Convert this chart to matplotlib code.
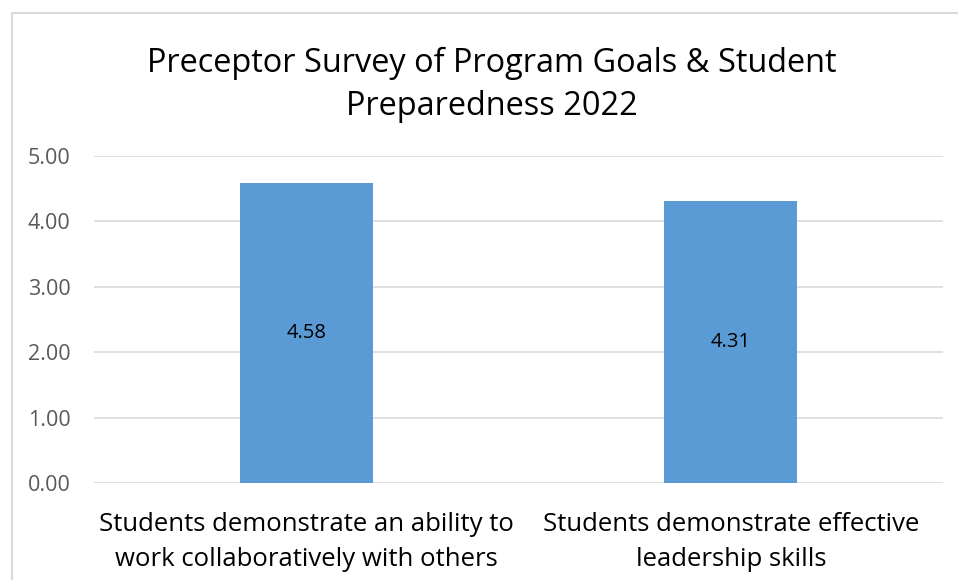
import matplotlib
matplotlib.use("Agg")
import matplotlib.pyplot as plt
from matplotlib.patches import Rectangle

categories = ["Students demonstrate an ability to\nwork collaboratively with others",
              "Students demonstrate effective\nleadership skills"]
values = [4.58, 4.31]
value_labels = ["4.58", "4.31"]
yticks = [0, 1, 2, 3, 4, 5]
ytick_labels = ["0.00", "1.00", "2.00", "3.00", "4.00", "5.00"]
title = "Preceptor Survey of Program Goals & Student\nPreparedness 2022"

plt.rcParams['font.family'] = ['Open Sans', 'DejaVu Sans']

W, H = 958, 580
fig = plt.figure(figsize=(W/100, H/100), dpi=100)
fig.patch.set_facecolor('white')

# chart border
fig.add_artist(Rectangle((12/W, -0.05), 1.2, (H-13)/H + 0.05, transform=fig.transFigure,
                         fill=False, edgecolor='#d9d9d9', linewidth=1.5))

left, right, top, bottom = 94, 943, 156, 483
ax = fig.add_axes([left/W, 1-bottom/H, (right-left)/W, (bottom-top)/H])
x = list(range(len(categories)))
bars = ax.bar(x, values, width=0.313, color='#5b9bd5', zorder=3)
ax.set_xlim(-0.5, len(categories)-0.5)
ax.set_ylim(0, 5)
ax.set_yticks(yticks)
ax.set_yticklabels(ytick_labels, fontsize=15.5, color='#595959')
ax.set_xticks(x)
ax.set_xticklabels(categories, fontsize=18.5, color='black', linespacing=1.5)
ax.tick_params(axis='both', length=0)
ax.tick_params(axis='y', pad=17)
ax.tick_params(axis='x', pad=21)
ax.grid(axis='y', color='#d9d9d9', linewidth=1.2, zorder=0)
for s in ax.spines.values():
    s.set_visible(False)
for xi, v, lab in zip(x, values, value_labels):
    ax.text(xi, v/2, lab, ha='center', va='center', fontsize=14.5, color='black', zorder=4)

fig.text(492/W, 1-85/H, title, ha='center', va='center', fontsize=23.4, color='black',
         linespacing=1.4)

fig.savefig('out.png', dpi=100)
